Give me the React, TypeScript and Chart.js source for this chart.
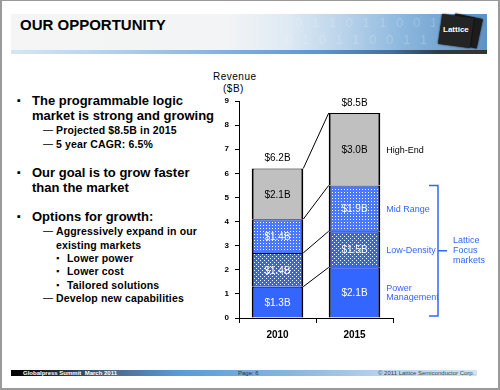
import React, { useEffect, useRef } from "react";
import { Chart, registerables } from "chart.js";
Chart.register(...registerables);

// ---------- data ----------
const years = ["2010", "2015"];
const powerManagement = [1.3, 2.1];
const lowDensity = [1.4, 1.5];
const midRange = [1.4, 1.9];
const highEnd = [2.1, 3.0];
const totalLabels = ["$6.2B", "$8.5B"];
const segmentNames = [["Power", "Management"], ["Low-Density"], ["Mid Range"], ["High-End"]];
const focusLabel = ["Lattice", "Focus", "markets"];
const focusSegments = 3; // first three segments are Lattice focus markets
const yMin = 0;
const yMax = 9;

const BLUE = "#3366FF";
const MID_BLUE = "#4A78FF";
const GRAY = "#C0C0C0";
const FONT = "'Liberation Sans', Arial, sans-serif";
// dot texture per dataset: [step, staggered] (null = plain)
const textures: ([number, boolean] | null)[] = [null, [4, true], [3, false], null];

const overlayPlugin = {
  id: "overlay",
  afterDatasetsDraw(chart: any) {
    const ctx: CanvasRenderingContext2D = chart.ctx;
    const ys = chart.scales.y;
    const ds = chart.data.datasets;
    const metas = ds.map((_: any, i: number) => chart.getDatasetMeta(i));
    const bar = (i: number, j: number) => metas[i].data[j].getProps(["x", "y", "base", "width"], true);
    ctx.save();

    // dot textures
    ctx.fillStyle = "#ffffff";
    for (let i = 0; i < ds.length; i++) {
      const tex = textures[i];
      if (!tex) continue;
      const [step, stagger] = tex;
      for (let j = 0; j < ds[i].data.length; j++) {
        const p = bar(i, j);
        const x0 = Math.ceil(p.x - p.width / 2 + 2);
        const x1 = Math.floor(p.x + p.width / 2 - 2);
        const y0 = Math.ceil(p.y + 1);
        const y1 = Math.floor(p.base - 1);
        const rowStep = stagger ? step / 2 : step;
        for (let yy = Math.ceil(y0 / rowStep) * rowStep; yy < y1; yy += rowStep) {
          const off = stagger && (yy / rowStep) % 2 === 1 ? step / 2 : 0;
          for (let xx = Math.ceil((x0 - off) / step) * step + off; xx < x1; xx += step) {
            ctx.fillRect(xx, yy, 1, 1);
          }
        }
      }
    }

    // connectors
    ctx.strokeStyle = "#000";
    ctx.lineWidth = 1;
    const cum = [0, 0];
    for (let i = 0; i < ds.length; i++) {
      cum[0] += ds[i].data[0];
      cum[1] += ds[i].data[1];
      const a = bar(i, 0);
      const b = bar(i, 1);
      ctx.beginPath();
      ctx.moveTo(a.x + a.width / 2, ys.getPixelForValue(cum[0]));
      ctx.lineTo(b.x - b.width / 2, ys.getPixelForValue(cum[1]));
      ctx.stroke();
    }

    // inner value labels
    ctx.font = `10px ${FONT}`;
    ctx.textAlign = "center";
    ctx.textBaseline = "middle";
    for (let i = 0; i < ds.length; i++) {
      for (let j = 0; j < ds[i].data.length; j++) {
        const p = bar(i, j);
        ctx.fillStyle = i === ds.length - 1 ? "#000" : "#fff";
        ctx.fillText(`$${ds[i].data[j].toFixed(1)}B`, p.x, (p.y + p.base) / 2 + 1);
      }
    }

    // totals
    ctx.fillStyle = "#000";
    for (let j = 0; j < years.length; j++) {
      let sum = 0;
      for (let i = 0; i < ds.length; i++) sum += ds[i].data[j];
      const p = bar(ds.length - 1, j);
      ctx.fillText(totalLabels[j], p.x, ys.getPixelForValue(sum) - 10);
    }

    // segment names beside the last bar
    ctx.font = `9px ${FONT}`;
    ctx.textAlign = "left";
    const last = years.length - 1;
    for (let i = 0; i < ds.length; i++) {
      const p = bar(i, last);
      const mid = (p.y + p.base) / 2;
      const lines = segmentNames[i];
      ctx.fillStyle = i === ds.length - 1 ? "#000" : BLUE;
      lines.forEach((t, k) => {
        ctx.fillText(t, p.x + p.width / 2 + 6, mid + (k - (lines.length - 1) / 2) * 9 + 1);
      });
    }

    // bracket
    let focusSum = 0;
    for (let i = 0; i < focusSegments; i++) focusSum += ds[i].data[last];
    const bx = chart.chartArea.right + 45;
    const top = ys.getPixelForValue(focusSum);
    const bottom = ys.getPixelForValue(0) - 2;
    const midY = (top + bottom) / 2;
    ctx.strokeStyle = BLUE;
    ctx.lineWidth = 1.5;
    ctx.beginPath();
    ctx.moveTo(bx - 9, top);
    ctx.lineTo(bx, top);
    ctx.lineTo(bx, bottom);
    ctx.lineTo(bx - 9, bottom);
    ctx.moveTo(bx, midY);
    ctx.lineTo(bx + 9, midY);
    ctx.stroke();
    ctx.fillStyle = BLUE;
    focusLabel.forEach((t, k) => ctx.fillText(t, bx + 15, midY + (k - 1) * 10));

    ctx.restore();
  },
};

function BarChart() {
  const ref = useRef<HTMLCanvasElement>(null);
  useEffect(() => {
    const canvas = ref.current!;
    const border = { left: 2, right: 2, top: 1, bottom: 0 };
    const common = {
      borderColor: "#000",
      borderWidth: border,
      borderSkipped: false,
      categoryPercentage: 1,
      barPercentage: 0.67,
    };
    const chart = new Chart(canvas, {
      type: "bar",
      data: {
        labels: years,
        datasets: [
          { label: "Power Management", data: powerManagement, backgroundColor: BLUE, ...common },
          { label: "Low-Density", data: lowDensity, backgroundColor: BLUE, ...common },
          { label: "Mid Range", data: midRange, backgroundColor: MID_BLUE, ...common },
          { label: "High-End", data: highEnd, backgroundColor: GRAY, ...common },
        ],
      },
      options: {
        animation: false,
        responsive: false,
        events: [],
        layout: { padding: { top: 41, right: 107, left: 0, bottom: 0 } },
        plugins: { legend: { display: false }, tooltip: { enabled: false } },
        scales: {
          x: {
            stacked: true,
            border: { color: "#000", width: 1 },
            grid: { drawOnChartArea: false, color: "#000", tickLength: 5 },
            ticks: { color: "#000", font: { family: FONT, size: 10, weight: "bold" }, padding: 6 },
            afterFit: (s: any) => { s.height = 27; },
          },
          y: {
            stacked: true,
            min: yMin,
            max: yMax,
            border: { color: "#000", width: 1 },
            grid: { drawOnChartArea: false, color: "#000", tickLength: 4 },
            ticks: { stepSize: 1, color: "#000", font: { family: FONT, size: 8, weight: "bold" }, padding: 6 },
            afterFit: (s: any) => { s.width = 39; },
          },
        },
      },
      plugins: [overlayPlugin],
    });
    return () => chart.destroy();
  }, []);
  return (
    <canvas
      ref={ref}
      width={300}
      height={285}
      style={{ position: "absolute", left: 200, top: 60, width: 300, height: 285 }}
    />
  );
}

type Line = { text: string; level: number; cy: number; bullet?: boolean };
const bulletLines: Line[] = [
  { text: "The programmable logic", level: 1, cy: 100, bullet: true },
  { text: "market is strong and growing", level: 1, cy: 115 },
  { text: "Projected $8.5B in 2015", level: 2, cy: 130, bullet: true },
  { text: "5 year CAGR: 6.5%", level: 2, cy: 144, bullet: true },
  { text: "Our goal is to grow faster", level: 1, cy: 172, bullet: true },
  { text: "than the market", level: 1, cy: 187 },
  { text: "Options for growth:", level: 1, cy: 216, bullet: true },
  { text: "Aggressively expand in our", level: 2, cy: 231, bullet: true },
  { text: "existing markets", level: 2, cy: 245 },
  { text: "Lower power", level: 3, cy: 258, bullet: true },
  { text: "Lower cost", level: 3, cy: 271, bullet: true },
  { text: "Tailored solutions", level: 3, cy: 285, bullet: true },
  { text: "Develop new capabilities", level: 2, cy: 298, bullet: true },
];

function Bullets() {
  return (
    <>
      {bulletLines.map((l, i) => {
        const size = l.level === 1 ? 13 : 10.5;
        const textX = l.level === 1 ? 32 : l.level === 2 ? 56 : 67;
        const bx = l.level === 1 ? 17 : l.level === 2 ? 43 : 56;
        const mark = l.level === 2 ? "—" : "▪";
        const base: React.CSSProperties = {
          position: "absolute",
          top: l.cy - size / 2,
          fontSize: size,
          lineHeight: `${size}px`,
          fontWeight: "bold",
          whiteSpace: "nowrap",
          color: "#000",
          letterSpacing: l.level === 1 ? 0 : 0.15,
        };
        return (
          <React.Fragment key={i}>
            {l.bullet && (
              <div style={{ ...base, left: bx, fontSize: l.level === 2 ? 10 : l.level === 1 ? 11 : 9, fontWeight: "normal" }}>
                {mark}
              </div>
            )}
            <div style={{ ...base, left: textX }}>{l.text}</div>
          </React.Fragment>
        );
      })}
    </>
  );
}

export default function App() {
  return (
    <div
      style={{
        position: "fixed",
        left: 0,
        top: 0,
        width: 500,
        height: 390,
        boxSizing: "border-box",
        border: "2px solid #9a9a9a",
        borderTopWidth: 1,
        background: "#fff",
        fontFamily: FONT,
        overflow: "hidden",
      }}
    >
      <div style={{ position: "absolute", left: -2, top: -1, width: 500, height: 390 }}>
        {/* header banner */}
        <div
          style={{
            position: "absolute",
            left: 11,
            top: 14,
            width: 476,
            height: 37,
            background:
              "linear-gradient(90deg, #f5f5f5 0%, #f3f4f5 45%, #dfeaf4 58%, #b9d3ea 70%, #8db8de 82%, #5d92c6 100%)",
          }}
        />
        <div
          style={{
            position: "absolute",
            left: 255,
            top: 14,
            width: 180,
            height: 37,
            color: "rgba(255,255,255,0.22)",
            fontSize: 13,
            lineHeight: "17px",
            letterSpacing: 3,
            whiteSpace: "nowrap",
            overflow: "hidden",
          }}
        >
          <div style={{ paddingLeft: 40 }}>0 1 1 0 1 1 0 0 1 0 0 1 0</div>
          <div style={{ paddingLeft: 30 }}>0 1 0 1 1 0 0 1 1 0 0 1 0 0</div>
        </div>
        <div
          style={{
            position: "absolute",
            left: 11,
            top: 50,
            width: 476,
            height: 4,
            background:
              "linear-gradient(90deg, #d6e6f4 0%, #b4d2ec 20%, #7fb2e0 45%, #5c96cc 65%, #466e96 80%, #2e3a46 90%, #333 100%)",
          }}
        />
        <div
          style={{
            position: "absolute",
            left: 20,
            top: 16,
            fontSize: 15,
            lineHeight: "17px",
            fontWeight: "bold",
            color: "#000",
            whiteSpace: "nowrap",
          }}
        >
          OUR OPPORTUNITY
        </div>
        {/* logo */}
        <div
          style={{
            position: "absolute",
            left: 452,
            top: 16,
            width: 28,
            height: 30,
            background: "#1c1c1c",
            transform: "rotate(12deg)",
            boxShadow: "0 0 2px #000",
          }}
        />
        <div
          style={{
            position: "absolute",
            left: 440,
            top: 16,
            width: 32,
            height: 30,
            background: "#242424",
            transform: "rotate(8deg)",
            boxShadow: "0 0 2px #000",
          }}
        />
        <div
          style={{
            position: "absolute",
            left: 443,
            top: 25,
            fontSize: 8,
            fontWeight: "bold",
            color: "#fff",
            whiteSpace: "nowrap",
          }}
        >
          Lattice
        </div>

        <Bullets />

        {/* y axis title */}
        <div style={{ position: "absolute", left: 213, top: 71, fontSize: 10, lineHeight: "12px", letterSpacing: 0.5, whiteSpace: "nowrap" }}>
          Revenue
        </div>
        <div style={{ position: "absolute", left: 223, top: 83, fontSize: 10, lineHeight: "12px", letterSpacing: 0.5, whiteSpace: "nowrap" }}>
          ($B)
        </div>

        <BarChart />

        {/* footer */}
        <div
          style={{
            position: "absolute",
            left: 11,
            top: 370,
            width: 466,
            height: 6,
            background:
              "linear-gradient(90deg, #000 0%, #0a0a0a 3%, #4a6c92 22%, #5c9ad2 36%, #86b6e0 60%, #b4d4ee 80%, #cfe3f3 100%)",
          }}
        />
        <div style={{ position: "absolute", left: 23, top: 369, fontSize: 6, lineHeight: "8px", fontWeight: "bold", color: "#fff", whiteSpace: "nowrap" }}>
          Globalpress Summit&nbsp; March 2011
        </div>
        <div style={{ position: "absolute", left: 238, top: 369, fontSize: 6, lineHeight: "8px", color: "#333", whiteSpace: "nowrap" }}>
          Page: 6
        </div>
        <div style={{ position: "absolute", left: 378, top: 369, fontSize: 6, lineHeight: "8px", color: "#444", whiteSpace: "nowrap" }}>
          © 2011 Lattice Semiconductor Corp.
        </div>
      </div>
    </div>
  );
}
